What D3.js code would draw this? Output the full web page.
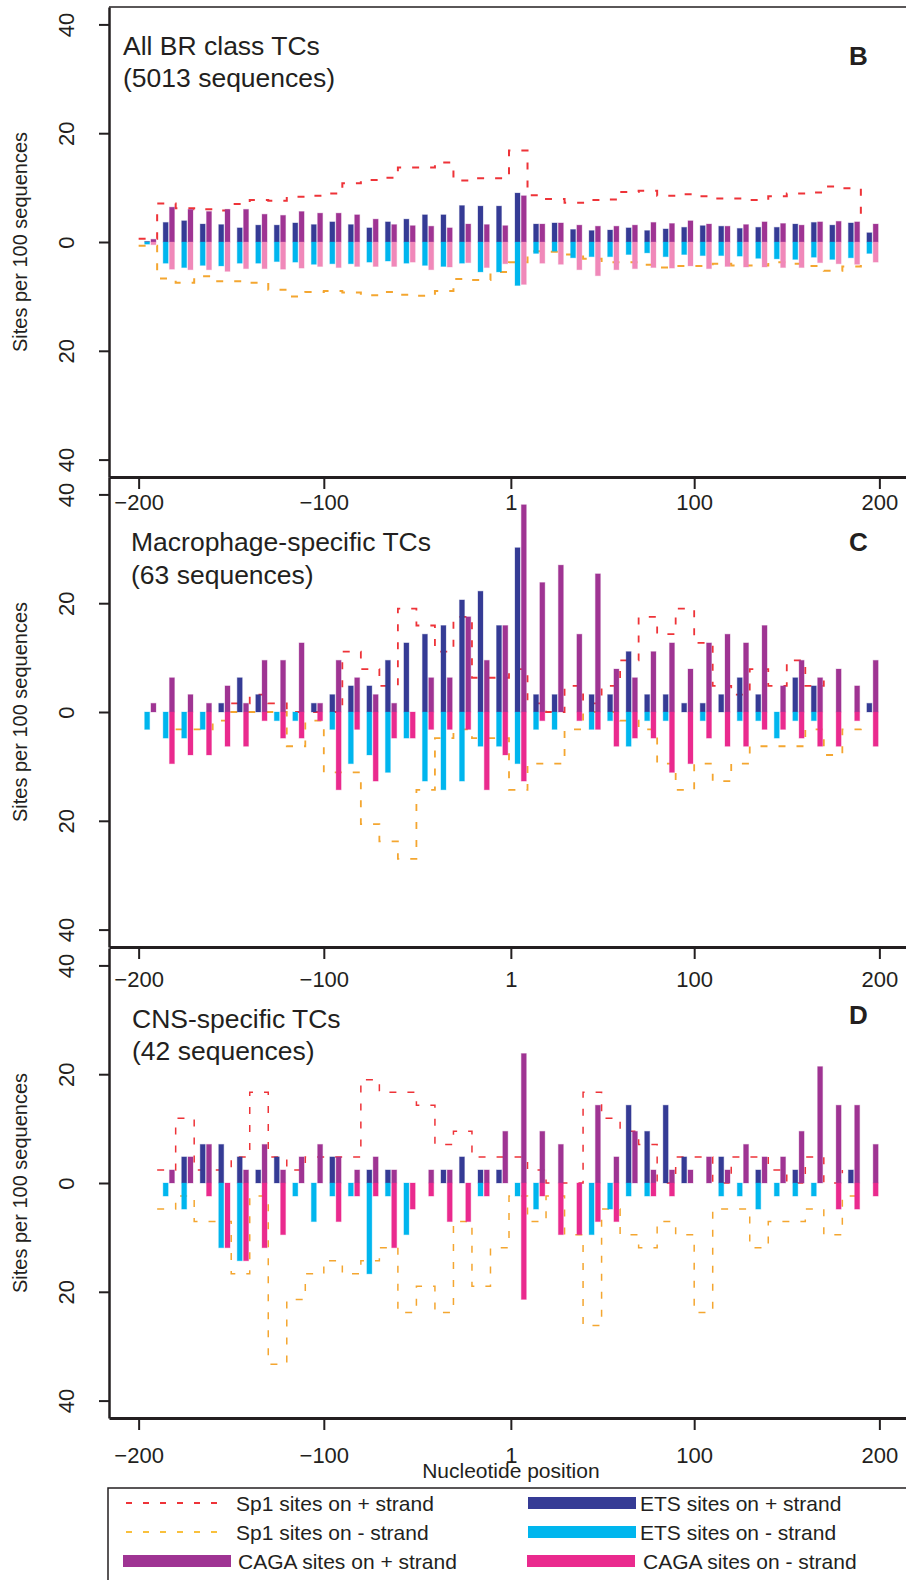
<!DOCTYPE html>
<meta charset="utf-8" />

<head>
  <style>
    body {
      margin: 0;
      background: #fff;
    }

    svg text {
      font-family: "Liberation Sans", Arial, sans-serif;
      fill: #231f20;
    }

    .domain {
      stroke: #231f20;
    }

    g.tick line {
      stroke: #231f20;
      stroke-width: 2;
    }
  </style>
</head>

<script src="https://d3js.org/d3.v7.min.js"></script>

<body>
  <div id="chart"></div>
  <script>
    ////////////////////////////////////
    ///////////// Data /////////////////
    ////////////////////////////////////

    // start of each 10 nt window
    const binStarts = [-200, -190, -180, -170, -160, -150, -140, -130, -120, -110,
      -100, -90, -80, -70, -60, -50, -40, -30, -20, -10,
      0, 10, 20, 30, 40, 50, 60, 70, 80, 90,
      100, 110, 120, 130, 140, 150, 160, 170, 180, 190];

    const xTicks = [-200, -100, 1, 100, 200];
    const yTicks = [-40, -20, 0, 20, 40];

    // panel B: all BR class TCs (sites per 100 sequences, minus strand stored as positive)
    const etsPlusB = [0.1, 3.6, 3.9, 3.3, 3.2, 2.6, 3.1, 3.1, 3.5, 3.2, 3.7, 3.2, 2.6, 3.7, 4.2, 5.0, 5.0, 6.7, 6.6, 6.6,
      9.0, 3.3, 3.5, 2.3, 2.1, 2.2, 2.6, 2.1, 2.4, 2.7, 3.0, 2.9, 2.5, 2.7, 2.7, 3.3, 3.6, 3.1, 3.5, 1.7];
    const cagaPlusB = [0.5, 6.4, 6.0, 5.6, 6.0, 6.0, 5.1, 4.9, 5.6, 5.3, 5.3, 5.0, 4.2, 3.2, 3.0, 2.9, 2.6, 3.3, 3.2, 3.0,
      8.5, 3.3, 3.5, 3.1, 2.9, 2.9, 3.1, 3.6, 3.4, 3.9, 3.3, 2.9, 3.2, 3.7, 3.4, 3.1, 3.7, 3.8, 3.7, 3.3];
    const etsMinusB = [0.4, 3.9, 4.7, 4.3, 4.4, 3.9, 3.9, 3.6, 3.7, 4.1, 4.0, 4.0, 3.7, 3.5, 3.9, 4.3, 4.5, 3.9, 5.5, 5.5,
      8.0, 2.1, 1.7, 2.9, 2.7, 2.7, 2.3, 2.0, 2.7, 2.3, 2.5, 2.5, 2.6, 3.0, 3.1, 3.2, 2.8, 3.2, 2.9, 2.1];
    const cagaMinusB = [0.5, 5.0, 5.1, 5.1, 5.4, 4.9, 4.9, 5.0, 4.8, 4.5, 4.7, 4.5, 4.5, 4.5, 3.7, 5.1, 4.6, 3.8, 4.7, 4.0,
      7.8, 3.9, 4.1, 5.1, 6.2, 5.1, 4.9, 4.7, 4.8, 4.4, 4.9, 4.5, 4.6, 4.6, 4.7, 4.7, 3.8, 4.0, 4.1, 3.7];
    const sp1PlusB = [0.6, 7.1, 6.2, 6.0, 5.8, 7.0, 7.7, 7.6, 8.3, 8.5, 8.9, 10.8, 11.4, 11.8, 13.7, 13.7, 14.6, 11.3, 11.7, 11.7,
      16.8, 8.6, 7.9, 7.2, 7.7, 7.8, 9.2, 9.4, 8.5, 8.8, 8.4, 8.0, 8.0, 7.7, 8.4, 8.9, 9.1, 10.2, 9.9, 4.0];
    const sp1MinusB = [0.7, 6.7, 7.5, 6.3, 7.2, 7.2, 7.5, 8.8, 10.0, 9.2, 9.0, 9.3, 9.8, 9.2, 9.7, 9.9, 9.0, 6.8, 7.0, 5.5,
      3.7, 1.7, 1.8, 2.3, 3.1, 3.7, 3.7, 4.2, 4.7, 4.4, 4.4, 4.0, 4.3, 4.3, 3.7, 4.0, 4.4, 5.3, 4.5, 2.7];

    // panel C: macrophage-specific TCs
    const etsPlusC = [0, 0, 0, 0, 1.6, 6.3, 3.2, 0, 0, 1.6, 3.2, 4.8, 4.8, 9.5, 12.7, 14.3, 15.9, 20.6, 22.2, 15.9,
      30.2, 3.2, 3.2, 0, 3.2, 3.2, 11.1, 3.2, 3.2, 1.6, 1.6, 3.2, 6.3, 3.2, 0, 6.3, 4.8, 0, 0, 1.6];
    const cagaPlusC = [1.6, 6.3, 3.2, 1.6, 4.8, 1.6, 9.5, 9.5, 12.7, 1.6, 9.5, 6.3, 3.2, 1.6, 0, 6.3, 6.3, 17.5, 9.5, 15.9,
      38.1, 23.8, 27.0, 14.3, 25.4, 7.9, 6.3, 11.1, 12.7, 7.9, 12.7, 14.3, 12.7, 15.9, 4.8, 9.5, 6.3, 7.9, 4.8, 9.5];
    const etsMinusC = [3.2, 4.8, 4.8, 3.2, 0, 0, 0, 1.6, 1.6, 0, 3.2, 9.5, 7.9, 11.1, 4.8, 12.7, 14.3, 12.7, 6.3, 6.3,
      9.5, 3.2, 3.2, 0, 3.2, 1.6, 6.3, 1.6, 1.6, 0, 1.6, 0, 1.6, 1.6, 4.8, 1.6, 1.6, 0, 0, 0];
    const cagaMinusC = [0, 9.5, 7.9, 7.9, 6.3, 6.3, 1.6, 4.8, 4.8, 1.6, 14.3, 3.2, 12.7, 4.8, 4.8, 3.2, 3.2, 3.2, 14.3, 7.9,
      12.7, 1.6, 0, 1.6, 3.2, 6.3, 4.8, 4.8, 11.1, 9.5, 4.8, 6.3, 6.3, 3.2, 3.2, 4.8, 6.3, 6.3, 1.6, 6.3];
    const sp1PlusC = [null, null, null, null, null, 1.6, 3.2, 1.6, 0, 0, 0, 11.1, 7.9, 4.8, 19.0, 15.9, 11.1, 17.5, 6.3, 6.3,
      7.9, 1.6, 0, 4.8, 1.6, 4.8, 9.5, 17.5, 14.3, 19.0, 12.7, 4.8, 3.2, 7.9, 4.8, 9.5, 4.8, 6.3, null, null];
    const sp1MinusC = [null, null, 3.2, 3.2, 1.6, 0, 0, 0, 6.3, 1.6, 11.1, 11.1, 20.6, 23.8, 27.0, 14.3, 4.8, 3.2, 4.8, 4.8,
      14.3, 9.5, 9.5, 3.2, 0, 0, 1.6, 3.2, 9.5, 14.3, 9.5, 12.7, 9.5, 6.3, 6.3, 6.3, 3.2, 7.9, 3.2, 1.6];

    // panel D: CNS-specific TCs
    const etsPlusD = [0, 0, 4.8, 7.1, 7.1, 4.8, 2.4, 4.8, 0, 0, 4.8, 0, 2.4, 2.4, 0, 0, 2.4, 4.8, 2.4, 2.4,
      0, 0, 0, 0, 0, 0, 14.3, 9.5, 14.3, 4.8, 0, 4.8, 0, 2.4, 0, 2.4, 0, 0, 2.4, 0];
    const cagaPlusD = [0, 2.4, 4.8, 7.1, 0, 2.4, 7.1, 2.4, 4.8, 7.1, 4.8, 2.4, 4.8, 2.4, 0, 2.4, 2.4, 0, 2.4, 9.5,
      23.8, 9.5, 7.1, 0, 14.3, 4.8, 9.5, 2.4, 2.4, 2.4, 4.8, 2.4, 7.1, 4.8, 4.8, 9.5, 21.4, 14.3, 14.3, 7.1];
    const etsMinusD = [0, 2.4, 4.8, 0, 11.9, 14.3, 0, 0, 2.4, 7.1, 2.4, 2.4, 16.7, 2.4, 9.5, 0, 0, 0, 2.4, 0,
      2.4, 4.8, 0, 0, 9.5, 4.8, 2.4, 2.4, 0, 0, 0, 2.4, 2.4, 4.8, 2.4, 2.4, 2.4, 0, 0, 0];
    const cagaMinusD = [0, 0, 0, 2.4, 11.9, 14.3, 11.9, 9.5, 0, 0, 7.1, 2.4, 2.4, 11.9, 4.8, 2.4, 7.1, 7.1, 2.4, 0,
      21.4, 2.4, 9.5, 9.5, 7.1, 7.1, 0, 2.4, 2.4, 0, 0, 0, 0, 0, 0, 0, 0, 4.8, 4.8, 2.4];
    const sp1PlusD = [null, 2.4, 11.9, 2.4, 2.4, 4.8, 16.7, 4.8, 2.4, 4.8, 4.8, 4.8, 19.0, 16.7, 16.7, 14.3, 7.1, 9.5, 4.8, 4.8,
      4.8, 2.4, 0, 0, 16.7, 11.9, 9.5, 7.1, 0, 4.8, 4.8, 0, 4.8, 4.8, 2.4, 0, 4.8, 0, 2.4, null];
    const sp1MinusD = [null, 4.8, 2.4, 7.1, 7.1, 16.7, 2.4, 33.3, 21.4, 16.7, 14.3, 16.7, 14.3, 11.9, 23.8, 19.0, 23.8, 7.1, 19.0, 11.9,
      2.4, 7.1, 2.4, 9.5, 26.2, 4.8, 9.5, 11.9, 7.1, 9.5, 23.8, 4.8, 4.8, 11.9, 7.1, 7.1, 4.8, 9.5, 2.4, 2.4];

    ////////////////////////////////////
    ///////////// SVG Setup ////////////
    ////////////////////////////////////

    const svgWidth = 906;
    const svgHeight = 1580;
    const panelHeight = 470;
    const axisColor = "#231f20";

    const colors = {
      etsPlus: "#353b95",
      cagaPlus: "#9f3493",
      etsMinus: "#00b6ee",
      cagaMinus: "#ea2a8e",
      sp1Plus: "#ee3338",
      sp1Minus: "#f4a630",
    };

    const svg = d3
      .select("#chart")
      .append("svg")
      .attr("width", svgWidth)
      .attr("height", svgHeight)
      .style("display", "block");

    // x scale shared by all panels (R style 4% padding around -200..200)
    const xScale = d3.scaleLinear().domain([-216, 216]).range([109, 909]);

    const panels = [
      {
        top: 7,
        title: "All BR class TCs",
        subtitle: "(5013 sequences)",
        letter: "B",
        titleX: 123, titleY: 55, subtitleY: 87, letterY: 65,
        tickLabelY: 33,
        lineWidth: 2,
        cagaMinusColor: "#f088b9",
        etsPlus: etsPlusB, cagaPlus: cagaPlusB, etsMinus: etsMinusB, cagaMinus: cagaMinusB,
        sp1Plus: sp1PlusB, sp1Minus: sp1MinusB,
      },
      {
        top: 477,
        title: "Macrophage-specific TCs",
        subtitle: "(63 sequences)",
        letter: "C",
        titleX: 131, titleY: 551, subtitleY: 584, letterY: 551,
        tickLabelY: 40,
        lineWidth: 1.8,
        cagaMinusColor: colors.cagaMinus,
        etsPlus: etsPlusC, cagaPlus: cagaPlusC, etsMinus: etsMinusC, cagaMinus: cagaMinusC,
        sp1Plus: sp1PlusC, sp1Minus: sp1MinusC,
      },
      {
        top: 948,
        title: "CNS-specific TCs",
        subtitle: "(42 sequences)",
        letter: "D",
        titleX: 132, titleY: 1028, subtitleY: 1060, letterY: 1024,
        tickLabelY: 45,
        lineWidth: 1.5,
        cagaMinusColor: colors.cagaMinus,
        etsPlus: etsPlusD, cagaPlus: cagaPlusD, etsMinus: etsMinusD, cagaMinus: cagaMinusD,
        sp1Plus: sp1PlusD, sp1Minus: sp1MinusD,
      },
    ];

    ////////////////////////////////////
    ///////////// Panels ///////////////
    ////////////////////////////////////

    // bar offsets inside each 10 nt window
    const etsOffset = [3.25, 5.95];
    const cagaOffset = [6.65, 9.35];

    panels.forEach((p) => {
      const yScale = d3
        .scaleLinear()
        .domain([-43.2, 43.2])
        .range([p.top + panelHeight, p.top]);

      const g = svg.append("g");

      // Sp1 step lines (drawn under the bars)
      const stepLine = (sign) =>
        d3
          .line()
          .defined((d) => d.v !== null)
          .x((d) => xScale(d.bin))
          .y((d) => yScale(sign * d.v))
          .curve(d3.curveStepAfter);

      [
        { values: p.sp1Plus, sign: 1, color: colors.sp1Plus },
        { values: p.sp1Minus, sign: -1, color: colors.sp1Minus },
      ].forEach((s) => {
        const pts = binStarts.map((b, i) => ({ bin: b, v: s.values[i] }));
        g.append("path")
          .attr("d", stepLine(s.sign)(pts))
          .attr("fill", "none")
          .attr("stroke", s.color)
          .attr("stroke-width", p.lineWidth)
          .attr("stroke-dasharray", "7,11");
      });

      // bars
      const series = [
        { values: p.etsPlus, sign: 1, off: etsOffset, color: colors.etsPlus },
        { values: p.cagaPlus, sign: 1, off: cagaOffset, color: colors.cagaPlus },
        { values: p.etsMinus, sign: -1, off: etsOffset, color: colors.etsMinus },
        { values: p.cagaMinus, sign: -1, off: cagaOffset, color: p.cagaMinusColor },
      ];

      series.forEach((s) => {
        const data = binStarts
          .map((b, i) => ({ bin: b, v: s.values[i] }))
          .filter((d) => d.v > 0);

        g.append("g")
          .selectAll("rect")
          .data(data)
          .join("rect")
          .attr("x", (d) => xScale(d.bin + s.off[0]))
          .attr("width", (d) => xScale(d.bin + s.off[1]) - xScale(d.bin + s.off[0]))
          .attr("y", (d) => (s.sign > 0 ? yScale(d.v) : yScale(0)))
          .attr("height", (d) => Math.abs(yScale(d.v) - yScale(0)))
          .attr("fill", s.color)
          .attr("stroke", s.color)
          .attr("stroke-opacity", 0.3)
          .attr("stroke-width", 1);
      });

      // y axis (left side of the box)
      const yAxis = g
        .append("g")
        .attr("transform", "translate(109,0)")
        .call(
          d3
            .axisLeft(yScale)
            .tickValues(yTicks)
            .tickSize(10)
            .tickSizeOuter(0)
            .tickFormat((d) => Math.abs(d))
        );
      yAxis.select(".domain").attr("stroke-width", 2.5);
      yAxis
        .selectAll("text")
        .attr("transform", "rotate(-90)")
        .attr("x", 0)
        .attr("y", -35)
        .attr("dy", 0)
        .attr("text-anchor", "middle")
        .attr("font-size", 22);

      // x axis (bottom side of the box)
      const xAxis = g
        .append("g")
        .attr("transform", "translate(0," + (p.top + panelHeight) + ")")
        .call(
          d3
            .axisBottom(xScale)
            .tickValues(xTicks)
            .tickSize(12)
            .tickSizeOuter(0)
        );
      xAxis.select(".domain").attr("stroke-width", 3);
      xAxis
        .selectAll("text")
        .attr("y", p.tickLabelY)
        .attr("dy", 0)
        .attr("font-size", 22);

      // y title
      g.append("text")
        .attr("transform", "translate(27," + yScale(0) + ") rotate(-90)")
        .attr("text-anchor", "middle")
        .attr("font-size", 20)
        .text("Sites per 100 sequences");

      // panel labels
      g.append("text")
        .attr("x", p.titleX)
        .attr("y", p.titleY)
        .attr("font-size", 26.5)
        .text(p.title);
      g.append("text")
        .attr("x", p.titleX)
        .attr("y", p.subtitleY)
        .attr("font-size", 26.5)
        .text(p.subtitle);
      g.append("text")
        .attr("x", 849)
        .attr("y", p.letterY)
        .attr("font-size", 26)
        .attr("font-weight", 700)
        .text(p.letter);
    });

    // top of the first box
    svg
      .append("line")
      .attr("x1", 109)
      .attr("x2", svgWidth)
      .attr("y1", 7)
      .attr("y2", 7)
      .attr("stroke", axisColor)
      .attr("stroke-width", 1.5);

    // x title
    svg
      .append("text")
      .attr("x", xScale(1))
      .attr("y", 1478)
      .attr("text-anchor", "middle")
      .attr("font-size", 21)
      .text("Nucleotide position");

    ////////////////////////////////////
    ///////////// Legend ///////////////
    ////////////////////////////////////

    svg
      .append("rect")
      .attr("x", 108)
      .attr("y", 1488)
      .attr("width", 820)
      .attr("height", 120)
      .attr("fill", "none")
      .attr("stroke", axisColor)
      .attr("stroke-width", 1.5);

    const legendItems = [
      { label: "Sp1 sites on + strand", type: "line", color: colors.sp1Plus, x: 126, w: 100, y: 1503, tx: 236 },
      { label: "Sp1 sites on - strand", type: "line", color: "#f9c03c", x: 126, w: 100, y: 1532, tx: 236 },
      { label: "CAGA sites on + strand", type: "bar", color: colors.cagaPlus, x: 123, w: 108, y: 1561, tx: 238 },
      { label: "ETS sites on + strand", type: "bar", color: colors.etsPlus, x: 528, w: 108, y: 1503, tx: 640 },
      { label: "ETS sites on - strand", type: "bar", color: colors.etsMinus, x: 528, w: 108, y: 1532, tx: 640 },
      { label: "CAGA sites on - strand", type: "bar", color: colors.cagaMinus, x: 527, w: 108, y: 1561, tx: 643 },
    ];

    legendItems.forEach((d) => {
      if (d.type === "line") {
        svg
          .append("line")
          .attr("x1", d.x)
          .attr("x2", d.x + d.w)
          .attr("y1", d.y)
          .attr("y2", d.y)
          .attr("stroke", d.color)
          .attr("stroke-width", 2)
          .attr("stroke-dasharray", "6,11");
      } else {
        svg
          .append("rect")
          .attr("x", d.x)
          .attr("y", d.y - 6)
          .attr("width", d.w)
          .attr("height", 12)
          .attr("fill", d.color);
      }
      svg
        .append("text")
        .attr("x", d.tx)
        .attr("y", d.y + 7.5)
        .attr("font-size", 21)
        .text(d.label);
    });
  </script>
</body>
